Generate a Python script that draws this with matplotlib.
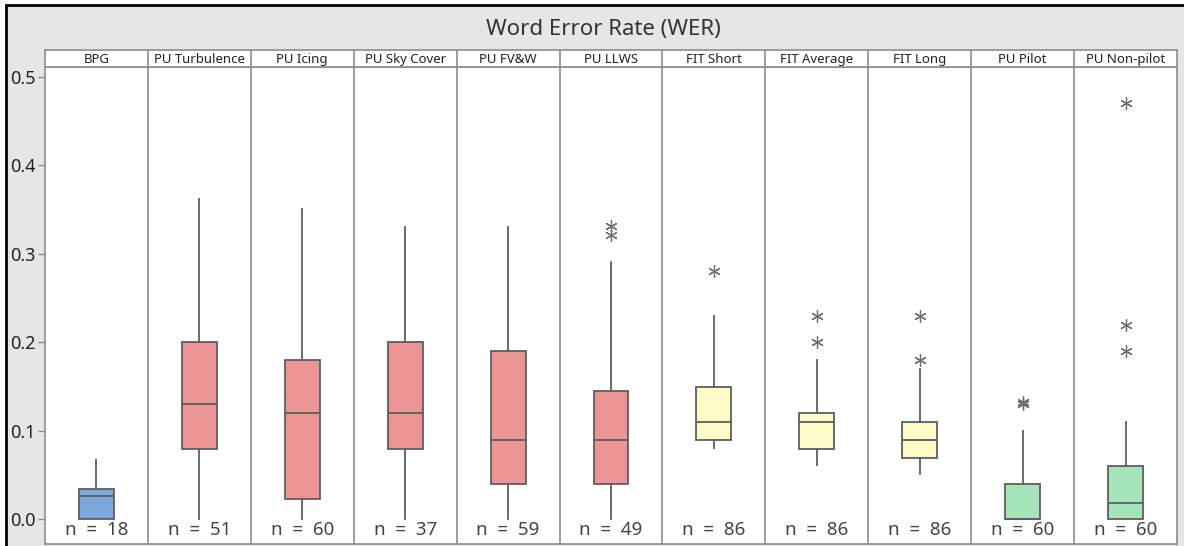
import matplotlib
matplotlib.use("Agg")
import matplotlib.pyplot as plt
from matplotlib.patches import Rectangle

plt.rcParams['font.family'] = ['Noto Sans', 'DejaVu Sans']

# ---------------------------------------------------------------------------
# Data
# ---------------------------------------------------------------------------
groups = ["BPG", "PU Turbulence", "PU Icing", "PU Sky Cover", "PU FV&W", "PU LLWS",
          "FIT Short", "FIT Average", "FIT Long", "PU Pilot", "PU Non-pilot"]
whisker_low = [0.0, 0.0, 0.0, 0.0, 0.0, 0.0, 0.081, 0.061, 0.051, 0.0, 0.0]
q1 = [0.0, 0.080, 0.023, 0.080, 0.040, 0.040, 0.090, 0.080, 0.070, 0.0, 0.0]
median = [0.026, 0.130, 0.120, 0.120, 0.090, 0.090, 0.110, 0.110, 0.090, 0.0, 0.019]
q3 = [0.035, 0.200, 0.180, 0.200, 0.190, 0.145, 0.150, 0.120, 0.110, 0.040, 0.060]
whisker_high = [0.067, 0.362, 0.351, 0.331, 0.330, 0.291, 0.230, 0.180, 0.170, 0.100, 0.110]
outliers = [[], [], [], [], [], [0.321, 0.332], [0.281], [0.200, 0.230],
            [0.180, 0.230], [0.131, 0.133], [0.190, 0.220, 0.471]]
n_obs = [18, 51, 60, 37, 59, 49, 86, 86, 86, 60, 60]
box_colors = ["#7ba7dc"] + ["#eb9595"] * 5 + ["#fdfcc8"] * 3 + ["#a6e4bc"] * 2

# ---------------------------------------------------------------------------
# Figure layout (pixel geometry of the reference)
# ---------------------------------------------------------------------------
W, H = 1184, 546
fig = plt.figure(figsize=(W / 100, H / 100), dpi=100, facecolor="white")

def fx(px):
    return px / W

def fy(py):
    return 1 - py / H

# gray frame with black top/left border
fig.patches.append(Rectangle((fx(6), -0.05), 1.1, fy(5) + 0.05, transform=fig.transFigure,
                             facecolor="#e6e6e6", edgecolor="black", linewidth=2, zorder=-5))

left, right = fx(45), fx(1177)
ax = fig.add_axes([left, fy(544), right - left, fy(66.7) - fy(544)])
hdr = fig.add_axes([left, fy(66.7), right - left, fy(50) - fy(66.7)])

edge = "#8c8c8c"
ngrp = len(groups)

stats = []
for i in range(ngrp):
    stats.append(dict(label=groups[i], whislo=whisker_low[i], q1=q1[i], med=median[i],
                      q3=q3[i], whishi=whisker_high[i], fliers=outliers[i]))

bp = ax.bxp(stats, positions=range(1, ngrp + 1), widths=0.34, patch_artist=True,
            showcaps=False,
            boxprops=dict(edgecolor="#5e5e5e", linewidth=1.3),
            medianprops=dict(color="#5e5e5e", linewidth=1.3),
            whiskerprops=dict(color="#5e5e5e", linewidth=1.3),
            flierprops=dict(marker=(6, 2, 0), markersize=9, markeredgecolor="#6e6e6e",
                            markeredgewidth=0.9, linestyle="none"))
for patch, c in zip(bp["boxes"], box_colors):
    patch.set_facecolor(c)

ax.set_xlim(0.5, ngrp + 0.5)
ax.set_ylim(-0.0277, 0.5116)
ax.set_xticks([])
ax.set_yticks([0.0, 0.1, 0.2, 0.3, 0.4, 0.5])
ax.set_yticklabels(["0.0", "0.1", "0.2", "0.3", "0.4", "0.5"])
ax.tick_params(axis="y", length=5, width=1, color=edge, labelsize=13, labelcolor="#222222", pad=2)
for lab in ax.get_yticklabels():
    lab.set_fontweight("semibold")
for s in ax.spines.values():
    s.set_color(edge)
    s.set_linewidth(1.2)

for k in range(1, ngrp):
    ax.axvline(k + 0.5, color=edge, linewidth=1.2)
    hdr.axvline(k + 0.5, color=edge, linewidth=1.2)

for i in range(ngrp):
    ax.text(i + 1, -0.012, f"n  =  {n_obs[i]}", ha="center", va="center",
            fontsize=13.5, color="#444444")

hdr.set_xlim(0.5, ngrp + 0.5)
hdr.set_ylim(0, 1)
hdr.set_xticks([])
hdr.set_yticks([])
hdr.set_facecolor("white")
for s in hdr.spines.values():
    s.set_color(edge)
    s.set_linewidth(1.2)
for i, g in enumerate(groups):
    hdr.text(i + 1, 0.45, g, ha="center", va="center", fontsize=9.5, color="#222222")

fig.text(fx(603), fy(29), "Word Error Rate (WER)", ha="center", va="center",
         fontsize=16, color="#333333")

fig.savefig("out.png", dpi=100)
